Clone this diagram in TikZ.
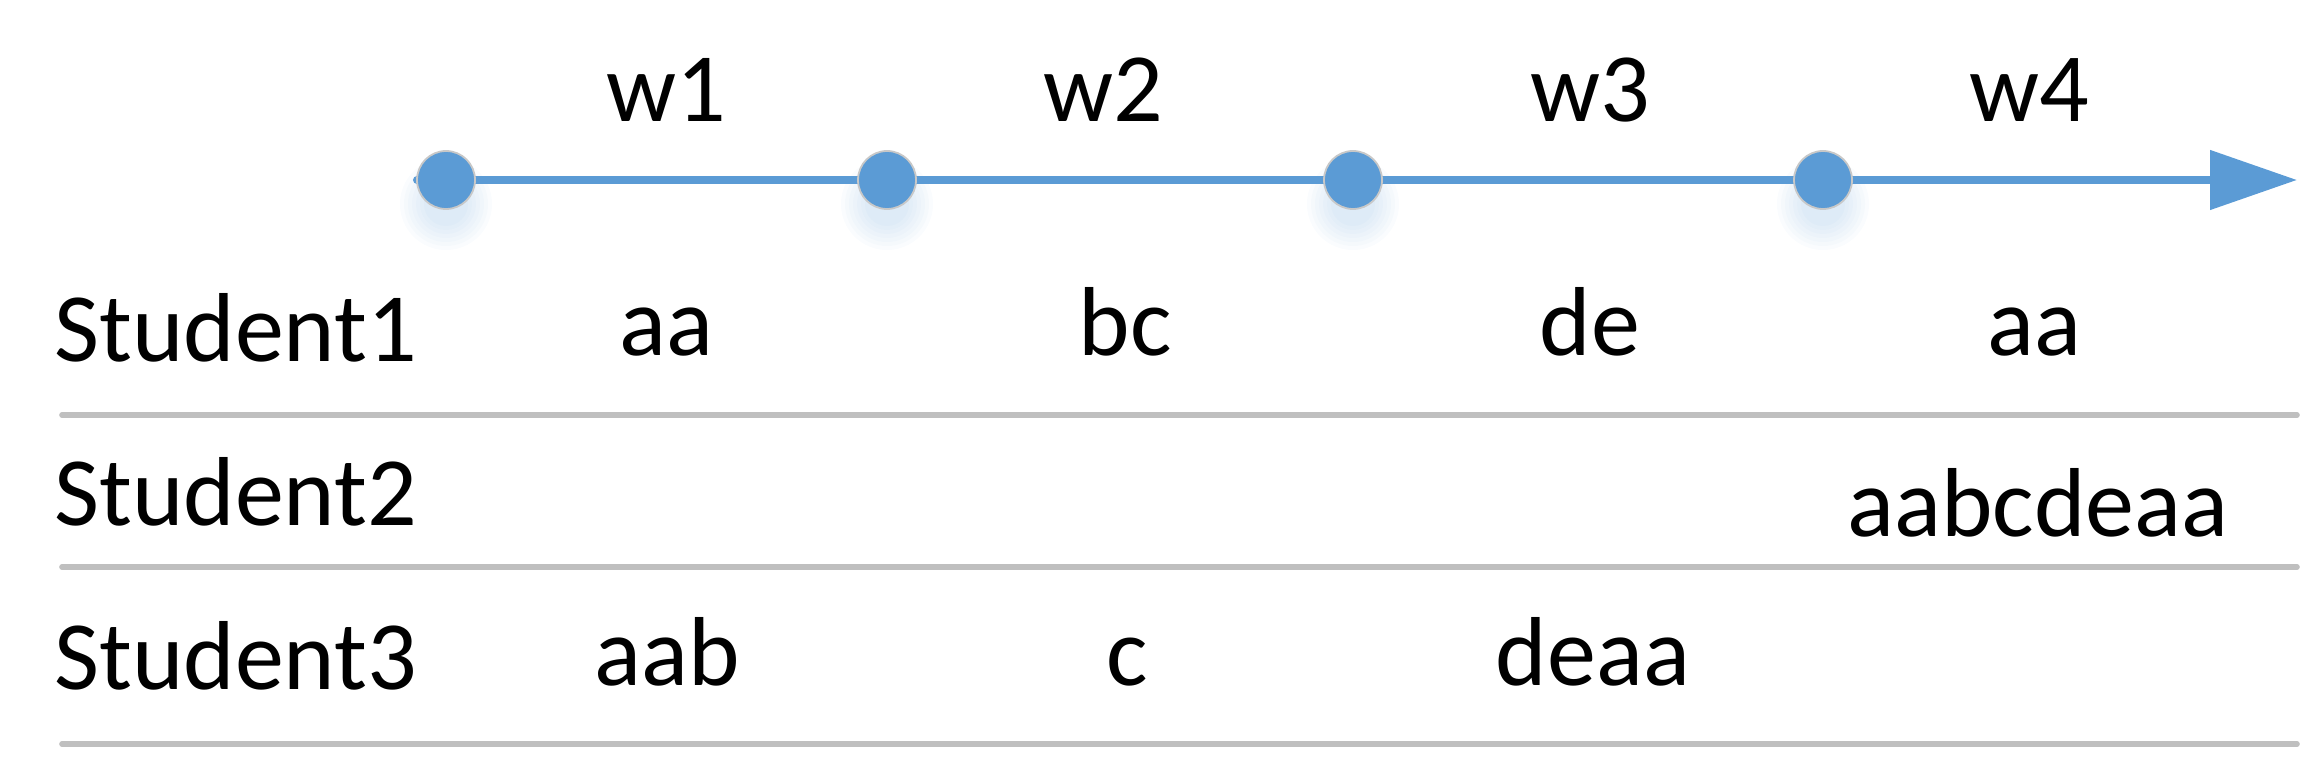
\documentclass[tikz,border=0pt]{standalone}
\usepackage{fontspec}
\setmainfont{Carlito}
\usetikzlibrary{arrows.meta}
\definecolor{tlblue}{HTML}{5B9BD5}
\definecolor{rowgray}{HTML}{BFBFBF}
\definecolor{dotrim}{HTML}{C8C8C8}
\begin{document}
\begin{tikzpicture}[x=0.5pt,y=-0.5pt,
  lbl/.style={anchor=base,inner sep=0pt,font=\fontsize{49}{58}\selectfont},
  rowlbl/.style={anchor=base west,inner sep=0pt,font=\fontsize{49}{58}\selectfont},
  tdot/.style={circle,fill=tlblue,draw=dotrim,line width=0.9pt,minimum size=29pt,inner sep=0pt},
  timeline/.style={draw=tlblue,line width=4pt,line cap=round,-{Triangle[length=43.5pt,width=29pt]}},
  rowline/.style={draw=rowgray,line width=2.8pt,line cap=round}]
\useasboundingbox (0,0) rectangle (2306,769);
% timeline
\coordinate (ts) at (417,180);
\coordinate (te) at (2297,180);
\draw[timeline] (ts) -- (te);
% glows
\foreach \cx in {446,887,1353,1823}{
  \foreach \r in {46,42,...,22}{
    \fill[tlblue,opacity=0.03] (\cx,204) circle[radius=\r*0.5pt];
  }
}
\node[tdot] (d1) at (446,180) {};
\node[tdot] (d2) at (887,180) {};
\node[tdot] (d3) at (1353,180) {};
\node[tdot] (d4) at (1823,180) {};
% week labels
\node[lbl] (w1) at (666,122) {w1};
\node[lbl] (w2) at (1103,122) {w2};
\node[lbl] (w3) at (1590,122) {w3};
\node[lbl] (w4) at (2029,122) {w4};
% row labels
\node[rowlbl] (s1) at (54,362) {Student1};
\node[rowlbl] (s2) at (54,525) {Student2};
\node[rowlbl] (s3) at (54,689) {Student3};
% row 1
\node[lbl] (r1a) at (666,356) {aa};
\node[lbl] (r1b) at (1125,356) {bc};
\node[lbl] (r1c) at (1590,356) {de};
\node[lbl] (r1d) at (2034,356) {aa};
% row 2
\node[lbl] (r2d) at (2038,537) {aabcdeaa};
% row 3
\node[lbl] (r3a) at (667,685) {aab};
\node[lbl] (r3b) at (1127,685) {c};
\node[lbl] (r3c) at (1593,685) {deaa};
% separators
\coordinate (l1a) at (62,415); \coordinate (l1b) at (2297,415);
\coordinate (l2a) at (62,567); \coordinate (l2b) at (2297,567);
\coordinate (l3a) at (62,744); \coordinate (l3b) at (2297,744);
\draw[rowline] (l1a) -- (l1b);
\draw[rowline] (l2a) -- (l2b);
\draw[rowline] (l3a) -- (l3b);
\end{tikzpicture}
\end{document}
